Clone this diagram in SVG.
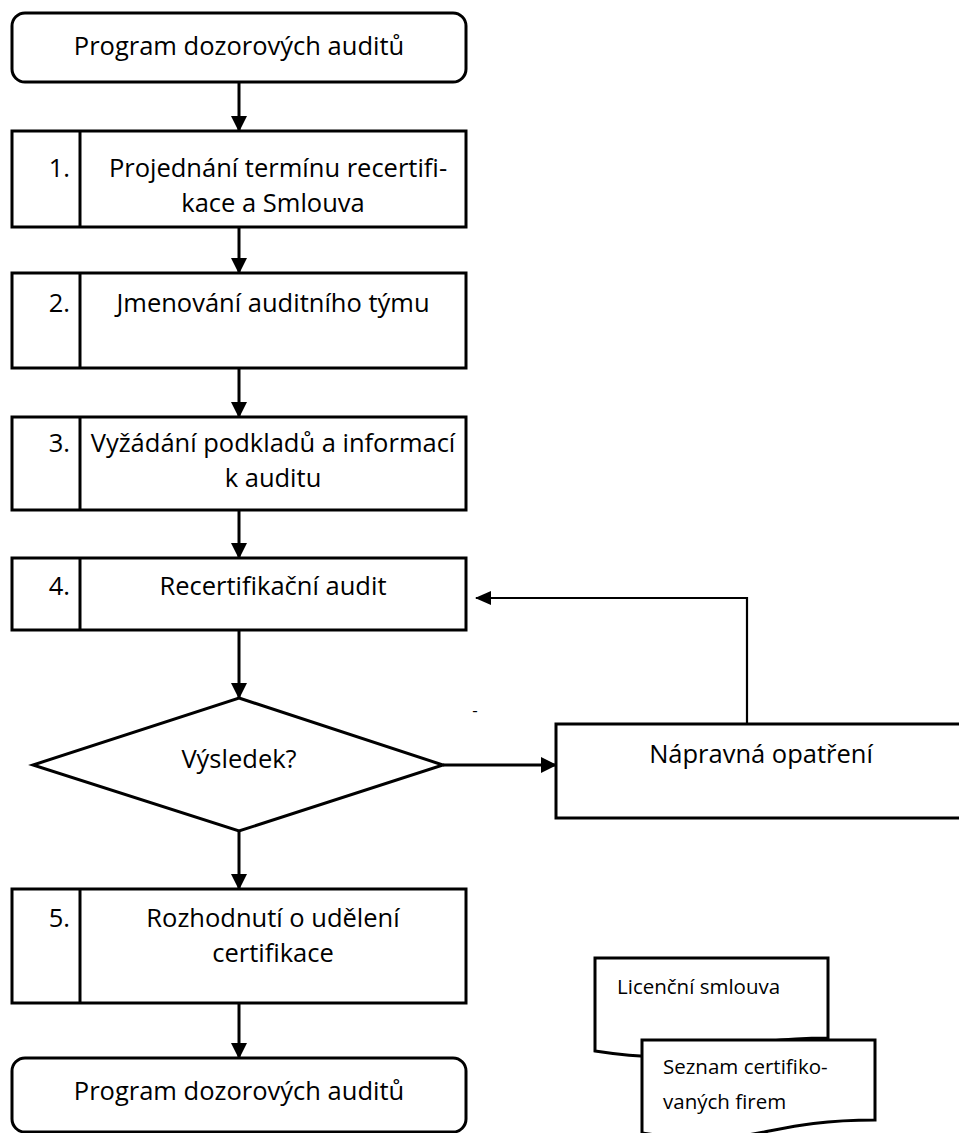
<svg xmlns="http://www.w3.org/2000/svg" width="959" height="1133" viewBox="0 0 959 1133">
<style>
.shape{fill:#fff;stroke:#000;stroke-width:3}
.div{stroke:#000;stroke-width:3}
.t{font-family:"Open Sans","Liberation Sans",sans-serif;font-size:25.5px;fill:#000;text-anchor:middle}
.n{font-family:"Open Sans","Liberation Sans",sans-serif;font-size:25.5px;fill:#000;text-anchor:end}
.s{font-family:"Open Sans","Liberation Sans",sans-serif;font-size:20.5px;fill:#000}
.c{fill:none;stroke:#000;stroke-width:3}
.fb{fill:none;stroke:#000;stroke-width:2.2}
</style>
<defs>
<marker id="ah" markerUnits="userSpaceOnUse" markerWidth="16" markerHeight="16" refX="15" refY="8" orient="auto" viewBox="0 0 16 16">
<path d="M0,0 L16,8 L0,16 z" fill="#000"/>
</marker>
<marker id="ah2" markerUnits="userSpaceOnUse" markerWidth="16" markerHeight="14" refX="15" refY="7" orient="auto" viewBox="0 0 16 14">
<path d="M0,0 L16,7 L0,14 z" fill="#000"/>
</marker>
</defs>
<g id="connectors">
<path class="c" d="M239,82 V131" marker-end="url(#ah)"/>
<path class="c" d="M239,227 V273" marker-end="url(#ah)"/>
<path class="c" d="M239,368 V417" marker-end="url(#ah)"/>
<path class="c" d="M239,510 V558" marker-end="url(#ah)"/>
<path class="c" d="M239,630 V698" marker-end="url(#ah)"/>
<path class="c" d="M239,831 V889" marker-end="url(#ah)"/>
<path class="c" d="M239,1003 V1058" marker-end="url(#ah)"/>
<path class="c" d="M443,765 H556" marker-end="url(#ah)"/>
<path class="fb" d="M747,724 V598 H476" marker-end="url(#ah2)"/>
</g>
<g id="start">
<rect class="shape" x="12" y="13" width="454" height="69" rx="13"/>
<text class="t" x="239" y="55">Program dozorových auditů</text>
</g>
<g id="step1">
<rect class="shape" x="12" y="131" width="454" height="96"/>
<line class="div" x1="80" y1="131" x2="80" y2="227"/>
<text class="n" x="70" y="177">1.</text>
<text class="t" x="278" y="177">Projednání termínu recertifi-</text>
<text class="t" x="273" y="212">kace a Smlouva</text>
</g>
<g id="step2">
<rect class="shape" x="12" y="273" width="454" height="95"/>
<line class="div" x1="80" y1="273" x2="80" y2="368"/>
<text class="n" x="70" y="312">2.</text>
<text class="t" x="273" y="312">Jmenování auditního týmu</text>
</g>
<g id="step3">
<rect class="shape" x="12" y="417" width="454" height="93"/>
<line class="div" x1="80" y1="417" x2="80" y2="510"/>
<text class="n" x="70" y="452">3.</text>
<text class="t" x="273" y="452">Vyžádání podkladů a informací</text>
<text class="t" x="273" y="487">k auditu</text>
</g>
<g id="step4">
<rect class="shape" x="12" y="558" width="454" height="72"/>
<line class="div" x1="80" y1="558" x2="80" y2="630"/>
<text class="n" x="70" y="595">4.</text>
<text class="t" x="273" y="595">Recertifikační audit</text>
</g>
<g id="decision">
<polygon class="shape" points="239,698 443,765 239,831 33,765"/>
<text class="t" x="239" y="768">Výsledek?</text>
</g>
<text id="dash" x="475" y="716" font-family="Open Sans, sans-serif" font-size="17" text-anchor="middle">-</text>
<g id="corrective">
<rect class="shape" x="556" y="724" width="410" height="94"/>
<text class="t" x="761" y="763">Nápravná opatření</text>
</g>
<g id="step5">
<rect class="shape" x="12" y="889" width="454" height="114"/>
<line class="div" x1="80" y1="889" x2="80" y2="1003"/>
<text class="n" x="70" y="927">5.</text>
<text class="t" x="273" y="927">Rozhodnutí o udělení</text>
<text class="t" x="273" y="962">certifikace</text>
</g>
<g id="end">
<rect class="shape" x="12" y="1058" width="454" height="74" rx="13"/>
<text class="t" x="239" y="1100">Program dozorových auditů</text>
</g>
<g id="doc1">
<path class="shape" d="M595,958 H828 V1038 C711,1038 711,1069 595,1051 Z"/>
<text class="s" x="617" y="994">Licenční smlouva</text>
</g>
<g id="doc2">
<path class="shape" d="M642,1040 H875 V1120 C758,1120 758,1151 642,1133 Z"/>
<text class="s" x="663" y="1074">Seznam certifiko-</text>
<text class="s" x="663" y="1109">vaných firem</text>
</g>
</svg>
